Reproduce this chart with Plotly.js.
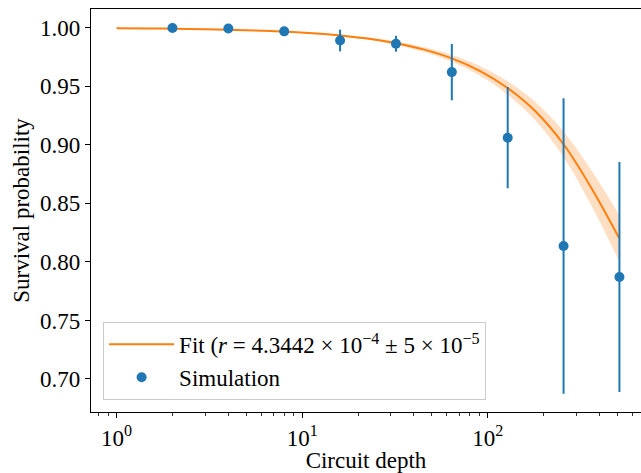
<!DOCTYPE html>
<html>
<head>
<meta charset="utf-8">
<script src="https://cdn.plot.ly/plotly-3.0.1.min.js"></script>
<style>
html, body { margin: 0; padding: 0; background: #fff; overflow: hidden; }
#chart { width: 641px; height: 473px; }
</style>
</head>
<body>
<div id="chart"></div>
<script>
// Simulation data
const simDepth = [2, 4, 8, 16, 32, 64, 128, 256, 512];
const simMean  = [0.9997, 0.9994, 0.9969, 0.9891, 0.9863, 0.9621, 0.9061, 0.8136, 0.7871];
const simErr   = [0.0005, 0.0010, 0.0015, 0.0093, 0.0068, 0.0241, 0.0432, 0.1262, 0.0982];

// Fit curve and its uncertainty band
const fitDepth = [1, 1.5, 2, 3, 4, 6, 8, 12, 16, 24, 32, 45, 64, 91, 128, 181, 256, 362, 512];
const fitMean  = [0.99959, 0.99938, 0.99917, 0.99876, 0.99834, 0.9975, 0.9967, 0.9950, 0.9934, 0.9901,
                  0.9868, 0.9815, 0.9738, 0.9630, 0.9485, 0.9285, 0.9005, 0.8630, 0.8200];
const fitUpper = [0.999635, 0.999448, 0.999261, 0.998896, 0.99852, 0.997775, 0.99706, 0.99555, 0.99413, 0.99119,
                  0.98825, 0.9835, 0.9767, 0.9671, 0.9542, 0.9364, 0.9114, 0.8781, 0.8398];
const fitLower = [0.999545, 0.999312, 0.999079, 0.998624, 0.99816, 0.997225, 0.99634, 0.99445, 0.99267, 0.98901,
                  0.98535, 0.9795, 0.9709, 0.9589, 0.9428, 0.9206, 0.8896, 0.8479, 0.8002];

// Axis ticks
const xTickVals = [1, 10, 100];
const xTickText = ['10<sup>0</sup>', '10<sup>1</sup>', '10<sup>2</sup>'];
const xMinorVals = [0.8, 0.9, 2, 3, 4, 5, 6, 7, 8, 9, 20, 30, 40, 50, 60, 70, 80, 90, 200, 300, 400, 500, 600];
const yTickVals = [0.70, 0.75, 0.80, 0.85, 0.90, 0.95, 1.00];

const FONT = 'Liberation Serif, Times New Roman, serif';
const FS = 23;
const BLUE = '#1f77b4';
const ORANGE = '#ff7f0e';

const traces = [
  {
    x: fitDepth, y: fitLower, type: 'scatter', mode: 'lines',
    line: { width: 0, shape: 'spline', color: 'rgba(0,0,0,0)' },
    showlegend: false, hoverinfo: 'skip'
  },
  {
    x: fitDepth, y: fitUpper, type: 'scatter', mode: 'lines',
    line: { width: 0, shape: 'spline', color: 'rgba(0,0,0,0)' },
    fill: 'tonexty', fillcolor: 'rgba(255,127,14,0.25)',
    showlegend: false, hoverinfo: 'skip'
  },
  {
    x: fitDepth, y: fitMean, type: 'scatter', mode: 'lines',
    name: 'Fit (<i>r</i> = 4.3442 × 10<sup>−4</sup> ± 5 × 10<sup>−5</sup>',
    line: { color: ORANGE, width: 2, shape: 'spline' }
  },
  {
    x: simDepth, y: simMean, type: 'scatter', mode: 'markers',
    name: 'Simulation',
    marker: { color: BLUE, size: 10 },
    error_y: { type: 'data', array: simErr, visible: true, color: BLUE, thickness: 2, width: 0 }
  }
];

const layout = {
  width: 641, height: 473,
  margin: { l: 91, r: 0, t: 9, b: 61 },
  paper_bgcolor: '#fff', plot_bgcolor: '#fff',
  font: { family: FONT, size: FS, color: '#000' },
  showlegend: true,
  legend: {
    x: 0.022, y: 0.03, xanchor: 'left', yanchor: 'bottom',
    bgcolor: 'rgba(255,255,255,0.8)', bordercolor: '#cccccc', borderwidth: 1,
    font: { family: FONT, size: FS, color: '#000' },
    traceorder: 'normal', itemwidth: 65, tracegroupgap: 0
  },
  xaxis: {
    type: 'log',
    range: [-0.1379, 2.8255],
    tickvals: xTickVals, ticktext: xTickText,
    ticks: 'outside', ticklen: 5, tickwidth: 1, tickcolor: '#000',
    minor: { tickvals: xMinorVals, ticks: 'outside', ticklen: 3, tickwidth: 0.8, tickcolor: '#000', showgrid: false },
    showline: true, linecolor: '#000', linewidth: 1.2, mirror: true,
    showgrid: false, zeroline: false,
    tickfont: { family: FONT, size: FS, color: '#000' },
    title: { text: 'Circuit depth', font: { family: FONT, size: FS, color: '#000' }, standoff: 1 }
  },
  yaxis: {
    range: [0.6718, 1.0160],
    tickvals: yTickVals, tickformat: '.2f',
    ticks: 'outside', ticklen: 5, tickwidth: 1, tickcolor: '#000',
    showline: true, linecolor: '#000', linewidth: 1.2, mirror: false,
    showgrid: false, zeroline: false,
    tickfont: { family: FONT, size: FS, color: '#000' },
    title: { text: 'Survival probability', font: { family: FONT, size: FS, color: '#000' }, standoff: 4 }
  }
};

Plotly.newPlot('chart', traces, layout, { displayModeBar: false, staticPlot: true });
</script>
</body>
</html>
